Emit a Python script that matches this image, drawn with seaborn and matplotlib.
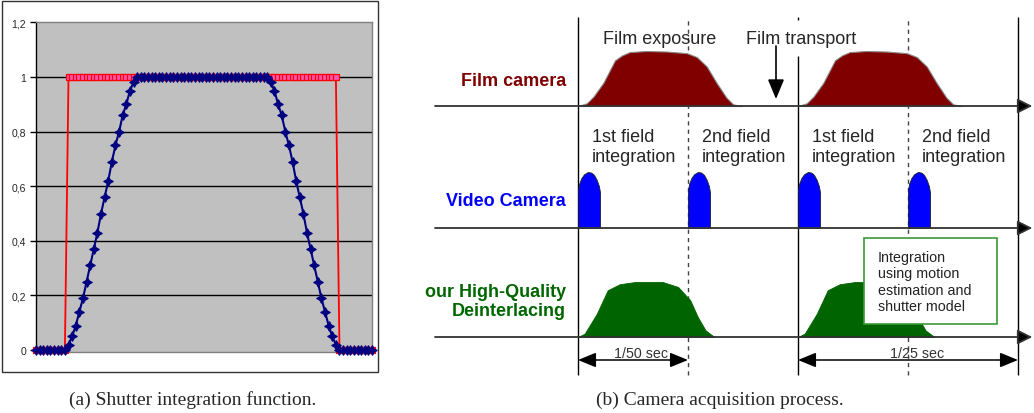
import numpy as np
import matplotlib
matplotlib.use("Agg")
import matplotlib.pyplot as plt
import seaborn as sns
from matplotlib.patches import Rectangle

# ---------------- (a) shutter integration function (sample values)
ideal_shutter = [0, 0, 0, 0, 0, 0, 0, 0, 0,
                 1, 1, 1, 1, 1, 1, 1, 1, 1, 1, 1, 1, 1, 1, 1, 1, 1, 1, 1, 1, 1, 1, 1, 1, 1,
                 1, 1, 1, 1, 1, 1, 1, 1, 1, 1, 1, 1, 1, 1, 1, 1, 1, 1, 1, 1, 1, 1, 1, 1, 1,
                 1, 1, 1, 1, 1, 1, 1, 1, 1, 1, 1, 1, 1, 1, 1, 1, 1, 1, 1, 1, 1, 1, 1, 1, 1,
                 0, 0, 0, 0, 0, 0, 0, 0, 0, 0]
real_shutter = [0, 0, 0, 0, 0, 0, 0, 0, 0,
                0.02, 0.05, 0.09, 0.14, 0.19, 0.25, 0.31, 0.37, 0.43, 0.50,
                0.56, 0.62, 0.69, 0.75, 0.80, 0.86, 0.90, 0.95, 0.98, 1.0,
                1, 1, 1, 1, 1, 1, 1, 1, 1, 1, 1, 1, 1, 1, 1, 1, 1, 1,
                1, 1, 1, 1, 1, 1, 1, 1, 1, 1, 1, 1, 1, 1, 1, 1, 1, 1,
                0.98, 0.95, 0.90, 0.86, 0.80, 0.75, 0.69, 0.62, 0.56, 0.50,
                0.43, 0.37, 0.31, 0.25, 0.19, 0.14, 0.09, 0.05, 0.02, 0.0,
                0, 0, 0, 0, 0, 0, 0, 0, 0]
ytick_vals = [0, 0.2, 0.4, 0.6, 0.8, 1.0, 1.2]
ytick_labels = ["0", "0,2", "0,4", "0,6", "0,8", "1", "1,2"]

# ---------------- (b) camera acquisition process (time in field periods)
frame_starts = [0, 2]
field_starts = [0, 1, 2, 3]
film_t = [0.0, 0.08, 0.14, 0.23, 0.336, 0.40, 0.47, 0.62, 0.81, 0.99,
          1.08, 1.17, 1.26, 1.35, 1.41, 1.49]
film_h = [0.0, 0.05, 0.17, 0.42, 0.83, 0.92, 0.98, 1.0, 0.99, 0.96,
          0.89, 0.72, 0.42, 0.15, 0.03, 0.0]
pulse_t = [0.0, 0.0, 0.01, 0.03, 0.055, 0.09, 0.12, 0.145, 0.17, 0.19, 0.2, 0.2]
pulse_h = [0.0, 0.68, 0.79, 0.89, 0.96, 1.0, 0.99, 0.95, 0.86, 0.75, 0.64, 0.0]
hq_t = [0.0, 0.06, 0.17, 0.27, 0.38, 0.52, 0.77, 0.91, 1.02, 1.09, 1.16, 1.24]
hq_h = [0.0, 0.06, 0.42, 0.85, 0.96, 1.0, 1.0, 0.91, 0.67, 0.36, 0.12, 0.0]
field_labels = ["1st field\nintegration", "2nd field\nintegration",
                "1st field\nintegration", "2nd field\nintegration"]

sns.set_style("white")
plt.rcParams["font.family"] = ["Liberation Sans", "DejaVu Sans"]

fig = plt.figure(figsize=(10.34, 4.14), dpi=100)
W, H = 1034, 414

# ---- left panel
ax = fig.add_axes([36 / W, (H - 353) / H, 336 / W, (353 - 23.3) / H])
ax.set_facecolor("#C0C0C0")
x = np.arange(len(real_shutter))
for lvl in ytick_vals[1:-1]:
    ax.axhline(lvl, color="black", lw=1, zorder=1)
sns.lineplot(x=x, y=ideal_shutter, ax=ax, color="#FF0000", lw=1.3, marker="s",
             markersize=4.5, markerfacecolor="#FF55B0", markeredgecolor="#FF0000",
             markeredgewidth=0.9, zorder=3, clip_on=False)
sns.lineplot(x=x, y=real_shutter, ax=ax, color="#000080", lw=1.5, marker=(4, 1, 0),
             markersize=7, markerfacecolor="#000080", markeredgecolor="#000080",
             markeredgewidth=0.8, zorder=4, clip_on=False)
ax.set_xlim(0, len(real_shutter) - 1)
ax.set_ylim(-0.007, 1.2)
ax.set_xticks([])
ax.set_yticks(ytick_vals)
ax.set_yticklabels(ytick_labels, fontsize=7.5)
ax.tick_params(axis="y", direction="out", length=4, width=1, color="black", pad=3, left=True)
ax.set_xlabel("")
ax.set_ylabel("")
for s in ["top", "right", "bottom"]:
    ax.spines[s].set_color("#808080")
    ax.spines[s].set_linewidth(1)
ax.spines["left"].set_color("black")
ax.spines["left"].set_linewidth(1)

fig.add_artist(Rectangle((2 / W, (H - 373) / H), 376 / W, 371 / H, fill=False,
                         edgecolor="#333333", lw=1, transform=fig.transFigure))
fig.text(193 / W, (H - 400) / H, "(a) Shutter integration function.", ha="center",
         va="center", fontsize=14, family="Liberation Serif")
fig.text(720 / W, (H - 400) / H, "(b) Camera acquisition process.", ha="center",
         va="center", fontsize=14, family="Liberation Serif")

# ---- right panel (x: field periods, y: pixel rows from the bottom)
bx = fig.add_axes([420 / W, (H - 390) / H, 614 / W, 390 / H])
bx.set_xlim((420 - 578) / 110, (1034 - 578) / 110)
bx.set_ylim(24, 414)
bx.axis("off")

film_y, video_y, hq_y, dim_y = 307, 185, 76, 53
top_y, bot_y = 396, 38

# time grid
bx.vlines([0, 4], bot_y, top_y, color="black", lw=1, zorder=1)
bx.vlines([2], bot_y, 357, color="black", lw=1, zorder=1)
bx.vlines([2], 393, top_y, color="black", lw=1, zorder=1)
bx.vlines([1, 3], bot_y, top_y, color="#444444", lw=1, linestyles=(0, (3, 3)), zorder=1)

# film camera exposure humps
for f0 in frame_starts:
    tt = [f0 + v for v in film_t]
    bx.fill_between(tt, film_y, [film_y + 55 * v for v in film_h], facecolor="#800000",
                    edgecolor="#8a8a8a", lw=0.8, zorder=2)
# video field pulses
for f0 in field_starts:
    tt = [f0 + v for v in pulse_t]
    bx.fill_between(tt, video_y, [video_y + 56 * v for v in pulse_h], facecolor="#0000FF",
                    edgecolor="#202020", lw=0.6, zorder=2)
# high-quality deinterlacing humps
for f0 in frame_starts:
    tt = [f0 + v for v in hq_t]
    bx.fill_between(tt, hq_y, [hq_y + 55 * v for v in hq_h], facecolor="#006400",
                    edgecolor="#006400", lw=0.6, zorder=2)

# baselines with arrow heads
for yb in [film_y, video_y, hq_y]:
    bx.annotate("", xy=(4.13, yb), xytext=(-1.3, yb),
                arrowprops=dict(arrowstyle="-|>,head_length=0.9,head_width=0.45",
                                color="#333333", fc="black", lw=1.3,
                                shrinkA=0, shrinkB=0), zorder=3)

# row labels
bx.text(-0.11, 332, "Film camera", ha="right", va="center", fontsize=13,
        fontweight="bold", color="#800000")
bx.text(-0.11, 212, "Video Camera", ha="right", va="center", fontsize=13,
        fontweight="bold", color="#0000FF")
bx.text(-0.11, 112, "our High-Quality\nDeinterlacing", ha="right", va="center",
        multialignment="right", fontsize=13, fontweight="bold", color="#006600")

# annotations
bx.text(0.227, 375, "Film exposure", ha="left", va="center", fontsize=13)
bx.text(1.527, 375, "Film transport", ha="left", va="center", fontsize=13)
bx.annotate("", xy=(1.8, 314), xytext=(1.8, 367),
            arrowprops=dict(arrowstyle="-|>,head_length=1.2,head_width=0.5",
                            color="black", lw=1.2, shrinkA=0, shrinkB=0))
for f0, lab in zip(field_starts, field_labels):
    bx.text(f0 + 0.127, 266.5, lab, ha="left", va="center", fontsize=13)

bx.add_patch(Rectangle((2.6, 89), 1.209, 86, facecolor="white", edgecolor="#3A9A3A",
                       lw=1.2, zorder=5))
bx.text(2.727, 131.5, "Integration\nusing motion\nestimation and\nshutter model",
        ha="left", va="center", fontsize=10.3, color="#222222", zorder=6)

# period dimension arrows
bx.annotate("", xy=(1, dim_y), xytext=(0, dim_y),
            arrowprops=dict(arrowstyle="<|-|>,head_length=1.1,head_width=0.45",
                            color="black", lw=1.1, shrinkA=0, shrinkB=0))
bx.annotate("", xy=(4, dim_y), xytext=(2, dim_y),
            arrowprops=dict(arrowstyle="<|-|>,head_length=1.1,head_width=0.45",
                            color="black", lw=1.1, shrinkA=0, shrinkB=0))
bx.text(0.573, 60, "1/50 sec", ha="center", va="center", fontsize=10.3, color="#333333")
bx.text(3.08, 60, "1/25 sec", ha="center", va="center", fontsize=10.3, color="#333333")

fig.savefig("out.png", dpi=100)
